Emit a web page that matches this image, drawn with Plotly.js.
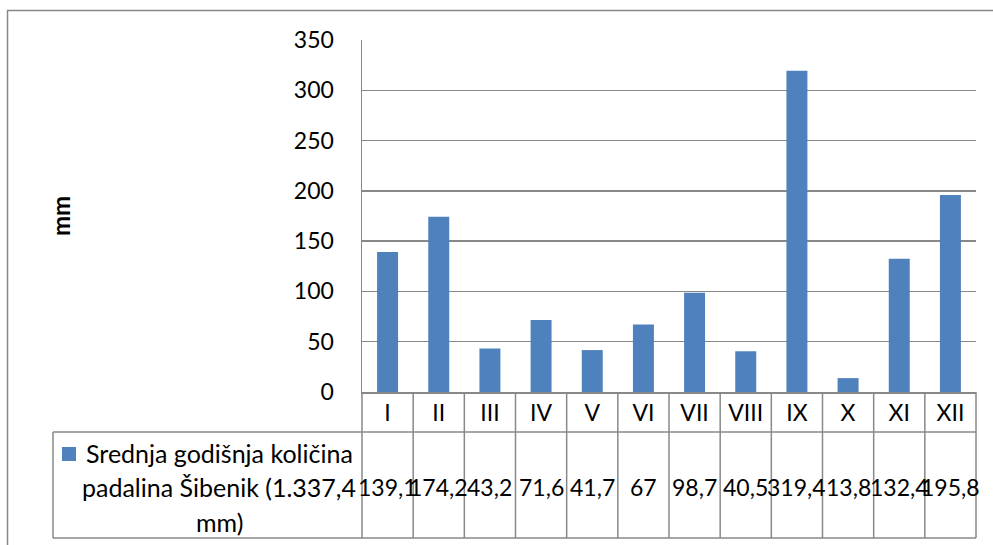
<!DOCTYPE html>
<html>
<head>
<meta charset="utf-8">
<script src="https://cdn.plot.ly/plotly-3.0.1.min.js"></script>
<style>html,body{margin:0;padding:0;background:#fff;}#chart{width:993px;height:545px;}</style>
</head>
<body>
<div id="chart"></div>
<script>
// Data
const months = ["I","II","III","IV","V","VI","VII","VIII","IX","X","XI","XII"];
const precipitation = [139.1, 174.2, 43.2, 71.6, 41.7, 67, 98.7, 40.5, 319.4, 13.8, 132.4, 195.8];
const seriesLabel = ["Srednja godišnja količina", "padalina Šibenik (1.337,4", "mm)"];
const yTickVals = [0, 50, 100, 150, 200, 250, 300, 350];
const yTitle = "mm";

const W = 993, H = 545;
const M = {l: 362, r: 17, t: 40, b: 153};
const PW = W - M.l - M.r, PH = H - M.t - M.b;
const px2paperX = px => (px - M.l) / PW;
const px2paperY = py => (H - M.b - py) / PH;

const FONT = "Lato, 'Open Sans', sans-serif";
const FS = 23;
const FS_LABEL = 25;
const GRID = "#888888";
const LW = 1.5;
const BAR = "#4F81BD";

const tableLeft = px2paperX(53);
const row1Bottom = px2paperY(432);
const row2Bottom = px2paperY(538);

const shapes = [];
// outer chart border (clipped by the window on the right and bottom)
shapes.push({type: "path", xref: "paper", yref: "paper",
  path: `M ${px2paperX(7.5)} ${px2paperY(560)} L ${px2paperX(7.5)} ${px2paperY(10.5)} L ${px2paperX(1010)} ${px2paperY(10.5)}`,
  line: {color: GRID, width: LW}});
// table horizontal lines
shapes.push({type: "line", xref: "paper", yref: "paper", x0: tableLeft, x1: 1, y0: row1Bottom, y1: row1Bottom, line: {color: GRID, width: LW}});
shapes.push({type: "line", xref: "paper", yref: "paper", x0: tableLeft, x1: 1, y0: row2Bottom, y1: row2Bottom, line: {color: GRID, width: LW}});
shapes.push({type: "line", xref: "paper", yref: "paper", x0: tableLeft, x1: tableLeft, y0: row1Bottom, y1: row2Bottom, line: {color: GRID, width: LW}});
// table vertical lines at category boundaries
for (let i = 0; i <= months.length; i++) {
  const edge = i === 0 || i === months.length;
  shapes.push({type: "line", xref: edge ? "paper" : "x", yref: "paper",
    x0: edge ? (i === 0 ? 0 : 1) : i - 0.5, x1: edge ? (i === 0 ? 0 : 1) : i - 0.5,
    y0: 0, y1: row2Bottom, line: {color: GRID, width: LW}});
}
// legend key square
shapes.push({type: "rect", xref: "paper", yref: "paper",
  x0: px2paperX(62), x1: px2paperX(76), y0: px2paperY(447), y1: px2paperY(461),
  fillcolor: BAR, line: {width: 0}});

const annotations = [];
const rowY = px2paperY(487);
months.forEach((m, i) => {
  annotations.push({xref: "x", yref: "paper", x: i, y: rowY, text: String(precipitation[i]).replace(".", ","),
    showarrow: false, xanchor: "center", yanchor: "middle", font: {family: FONT, size: FS, color: "#000"}});
});
const labelYs = [453, 487, 522];
seriesLabel.forEach((t, k) => {
  annotations.push({xref: "paper", yref: "paper", x: px2paperX(219), y: px2paperY(labelYs[k]), text: t,
    showarrow: false, xanchor: "center", yanchor: "middle", font: {family: FONT, size: FS_LABEL, color: "#000"}});
});
annotations.push({xref: "paper", yref: "paper", x: px2paperX(60), y: px2paperY(216), text: "<b>" + yTitle + "</b>",
  textangle: -90, showarrow: false, xanchor: "center", yanchor: "middle", font: {family: FONT, size: 24, color: "#000"}});

const trace = {
  type: "bar", x: months, y: precipitation,
  marker: {color: BAR, line: {width: 0}},
  hoverinfo: "x+y", showlegend: false
};

const layout = {
  width: W, height: H,
  margin: M,
  paper_bgcolor: "#fff", plot_bgcolor: "#fff",
  bargap: 0.59,
  font: {family: FONT, size: FS, color: "#000"},
  xaxis: {
    type: "category", range: [-0.5, 11.5], showgrid: false, zeroline: false,
    showline: true, linecolor: GRID, linewidth: LW,
    ticks: "",
    tickfont: {family: FONT, size: FS, color: "#000"}, fixedrange: true
  },
  yaxis: {
    range: [0, 350], tickvals: yTickVals, showgrid: true, gridcolor: GRID, gridwidth: LW,
    zeroline: false, showline: true, linecolor: GRID, linewidth: LW,
    ticks: "outside", ticklen: 22, tickcolor: "rgba(0,0,0,0)",
    tickfont: {family: FONT, size: FS, color: "#000"}, fixedrange: true
  },
  shapes: shapes,
  annotations: annotations
};

Plotly.newPlot("chart", [trace], layout, {staticPlot: true, displayModeBar: false});
</script>
</body>
</html>
